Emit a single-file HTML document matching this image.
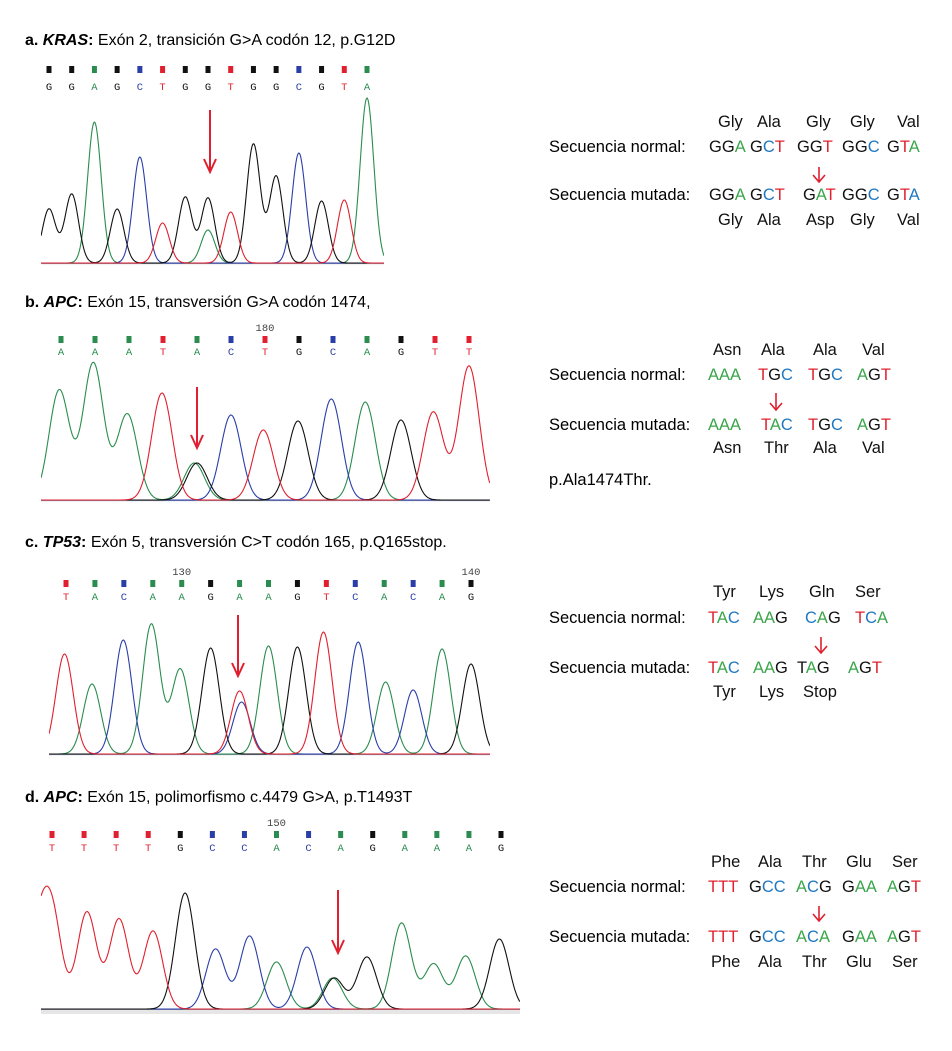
<!DOCTYPE html>
<html><head><meta charset="utf-8"><style>
html,body{margin:0;padding:0;background:#fff}
svg{display:block}
text{font-family:"Liberation Sans",Arial,sans-serif}
.seq{font-size:16.5px}
.mono{font-family:"Liberation Mono","DejaVu Sans Mono",monospace;font-size:10.5px}
</style></head><body>
<svg id="fig" width="952" height="1051" viewBox="0 0 952 1051" xmlns="http://www.w3.org/2000/svg">
<g font-size="16">
<text x="25" y="45"><tspan font-weight="bold">a. <tspan font-style="italic">KRAS</tspan>:</tspan> Exón 2, transición G&gt;A codón 12,  p.G12D</text>
<text x="25" y="307"><tspan font-weight="bold">b. <tspan font-style="italic">APC</tspan>:</tspan> Exón 15, transversión G&gt;A codón 1474,</text>
<text x="25" y="547"><tspan font-weight="bold">c. <tspan font-style="italic">TP53</tspan>:</tspan> Exón 5, transversión C&gt;T codón 165,  p.Q165stop.</text>
<text x="25" y="802"><tspan font-weight="bold">d. <tspan font-style="italic">APC</tspan>:</tspan> Exón 15, polimorfismo  c.4479 G&gt;A, p.T1493T</text>
</g>
<text x="549" y="485" font-size="16.5">p.Ala1474Thr.</text>
<g id="charts"></g>
<g id="seqs"></g>
</svg>
<script>
// ---- Panel a data ----
const callsA = ["G","G","A","G","C","T","G","G","T","G","G","C","G","T","A"];
const peakBaseA = ["G","G","A","G","C","T","G","G","A","T","G","G","C","G","T","A"];
const peakPosA = [0,1,2,3,4,5,6,7,7,8,9,10,11,12,13,14];
const peakHA = [54,69,141,54,106,40,66,65,33,51,119,87,110,62,63,165];
// ---- Panel b data ----
const callsB = ["A","A","A","T","A","C","T","G","C","A","G","T","T"];
const peakBaseB = ["A","A","A","T","G","A","C","T","G","C","A","G","T","T"];
const peakPosB = [-0.05,0.95,1.95,2.97,4.0,3.92,5.0,5.95,6.97,7.95,8.95,10.0,10.95,12.0];
const peakHB = [110,137,86,107,37,37,85,70,79,101,98,80,88,134];
// ---- Panel c data ----
const callsC = ["T","A","C","A","A","G","A","A","G","T","C","A","C","A","G"];
const peakBaseC = ["T","A","C","A","A","G","T","C","A","G","T","C","A","C","A","G"];
const peakPosC = [-0.05,0.9,1.98,2.95,3.95,5.0,6.0,6.07,7.0,8.0,8.9,10.1,11.05,12.0,13.0,14.0];
const peakHC = [100,70,114,130,85,106,63,52,108,107,122,112,72,64,105,90];
// ---- Panel d data ----
const callsD = ["T","T","T","T","G","C","C","A","C","A","G","A","A","A","G"];
const peakBaseD = ["T","T","T","T","T","G","C","C","A","C","A","G","G","A","A","A","G"];
const peakPosD = [-0.45,0,1.09,2.09,3.15,4.15,5.1,6.16,7.0,7.95,8.75,8.8,9.82,10.9,11.9,12.9,13.95];
const peakHD = [70,91,97,90,78,116,60,73,47,62,31,31,52,86,45,53,70];

const panels = [
 {id:"a",calls:callsA,pb:peakBaseA,pp:peakPosA,ph:peakHA,x0:49,x1:367,left:41,right:384,base:263,sq:70,let:90,arrow:[210,110,172],labels:[]},
 {id:"b",calls:callsB,pb:peakBaseB,pp:peakPosB,ph:peakHB,x0:61,x1:469,left:41,right:490,base:500,sq:340,let:355,arrow:[197,387,448],labels:[["180",6]]},
 {id:"c",calls:callsC,pb:peakBaseC,pp:peakPosC,ph:peakHC,x0:66,x1:471,left:49,right:490,base:754,sq:584,let:600,arrow:[238,615,676],labels:[["130",4],["140",14]]},
 {id:"d",calls:callsD,pb:peakBaseD,pp:peakPosD,ph:peakHD,x0:52,x1:501,left:41,right:520,base:1009,sq:835,let:851,arrow:[338,890,953],labels:[["150",7]]}
];
const traceCol={A:"#2a8c4e",C:"#2a3ea8",G:"#111111",T:"#e0202e"};
const NS="http://www.w3.org/2000/svg";
function mk(tag,attrs,parent){const e=document.createElementNS(NS,tag);for(const k in attrs)e.setAttribute(k,attrs[k]);parent.appendChild(e);return e;}
const charts=document.getElementById("charts");
panels.forEach(p=>{
  const n=p.calls.length;
  const step=(p.x1-p.x0)/(n-1);
  const xScale=i=>p.x0+i*step;
  const yScale=h=>p.base-h;
  const g=mk("g",{},charts);
  
  
  const clip=mk("clipPath",{id:"clip"+p.id},g);
  mk("rect",{x:p.left,y:p.base-200,width:p.right-p.left,height:202},clip);
  const bl=mk("line",{x1:p.left,x2:p.right,y1:p.base+0.5,y2:p.base+0.5,stroke:"#8a8fa8","stroke-width":1.2},g);
  
  
  if(p.id==="d"){mk("rect",{x:p.left,y:p.base+1,width:p.right-p.left,height:4,fill:"#e6e6e6"},g);}
  p.calls.forEach((b,i)=>{
    const sq=mk("rect",{x:xScale(i)-2.5,y:p.sq-4,width:5,height:7,fill:traceCol[b]},g);
    
    
    const t=mk("text",{x:xScale(i),y:p.let,"text-anchor":"middle",class:"mono",fill:traceCol[b]},g);
    t.textContent=b;
    
    
  });
  p.labels.forEach(l=>{
    const t=mk("text",{x:xScale(l[1]),y:p.sq-9,"text-anchor":"middle",class:"mono",fill:"#444"},g);
    t.textContent=l[0];
    
    
  });
  const sigma=step*0.3;
  ["A","C","G","T"].forEach(ch=>{
    const idx=p.pb.map((b,k)=>b===ch?k:-1).filter(k=>k>=0);
    if(!idx.length)return;
    let d="";
    for(let x=p.left;x<=p.right;x+=0.7){
      let s=0;
      idx.forEach(k=>{const dx=x-xScale(p.pp[k]);s+=p.ph[k]*Math.exp(-dx*dx/(2*sigma*sigma));});
      d+=(d?"L":"M")+x.toFixed(1)+","+yScale(s).toFixed(1);
    }
    const path=mk("path",{d:d,fill:"none",stroke:traceCol[ch],"stroke-width":1.1,"clip-path":"url(#clip"+p.id+")"},g);
    
    
  });
  const a=p.arrow;
  const ar=mk("path",{d:`M${a[0]},${a[1]}L${a[0]},${a[2]}M${a[0]-6},${a[2]-13}L${a[0]},${a[2]}L${a[0]+6},${a[2]-13}`,stroke:"#e02030","stroke-width":2,fill:"none"},g);
  
  
});

const R="#e0202e",Gn="#3aa64a",B="#1f78c1",K="#111";
const seqBlocks=[
 {y:[127,152,200,225],arrowX:819,arrowY:[167,182],
  aaTop:[["Gly",718],["Ala",757],["Gly",806],["Gly",850],["Val",897]],
  norm:[[[["G",K],["G",K],["A",Gn]],709],[[["G",K],["C",B],["T",R]],750],[[["G",K],["G",K],["T",R]],797],[[["G",K],["G",K],["C",B]],842],[[["G",K],["T",R],["A",Gn]],887]],
  mut:[[[["G",K],["G",K],["A",Gn]],709],[[["G",K],["C",B],["T",R]],750],[[["G",K],["A",Gn],["T",R]],803],[[["G",K],["G",K],["C",B]],842],[[["G",K],["T",R],["A",B]],887]],
  aaBot:[["Gly",718],["Ala",757],["Asp",806],["Gly",850],["Val",897]]},
 {y:[355,380,430,453],arrowX:776,arrowY:[393,410],
  aaTop:[["Asn",713],["Ala",761],["Ala",813],["Val",862]],
  norm:[[[["A",Gn],["A",Gn],["A",Gn]],708],[[["T",R],["G",K],["C",B]],758],[[["T",R],["G",K],["C",B]],808],[[["A",Gn],["G",K],["T",R]],857]],
  mut:[[[["A",Gn],["A",Gn],["A",Gn]],708],[[["T",R],["A",Gn],["C",B]],761],[[["T",R],["G",K],["C",B]],808],[[["A",Gn],["G",K],["T",R]],857]],
  aaBot:[["Asn",713],["Thr",764],["Ala",813],["Val",862]]},
 {y:[597,623,673,697],arrowX:821,arrowY:[637,653],
  aaTop:[["Tyr",713],["Lys",759],["Gln",809],["Ser",855]],
  norm:[[[["T",R],["A",Gn],["C",B]],708],[[["A",Gn],["A",Gn],["G",K]],753],[[["C",B],["A",Gn],["G",K]],805],[[["T",R],["C",B],["A",Gn]],855]],
  mut:[[[["T",R],["A",Gn],["C",B]],708],[[["A",Gn],["A",Gn],["G",K]],753],[[["T",K],["A",Gn],["G",K]],797],[[["A",Gn],["G",K],["T",R]],848]],
  aaBot:[["Tyr",713],["Lys",759],["Stop",803]]},
 {y:[867,892,942,967],arrowX:819,arrowY:[906,921],
  aaTop:[["Phe",711],["Ala",758],["Thr",802],["Glu",846],["Ser",892]],
  norm:[[[["T",R],["T",R],["T",R]],708],[[["G",K],["C",B],["C",B]],749],[[["A",Gn],["C",B],["G",K]],796],[[["G",K],["A",Gn],["A",Gn]],842],[[["A",Gn],["G",K],["T",R]],887]],
  mut:[[[["T",R],["T",R],["T",R]],708],[[["G",K],["C",B],["C",B]],749],[[["A",Gn],["C",B],["A",Gn]],796],[[["G",K],["A",Gn],["A",Gn]],842],[[["A",Gn],["G",K],["T",R]],887]],
  aaBot:[["Phe",711],["Ala",758],["Thr",802],["Glu",846],["Ser",892]]}
];
const seqs=document.getElementById("seqs");
seqBlocks.forEach((s,bi)=>{
  const g=mk("g",{class:"seq"},seqs);
  
  
  const l1=mk("text",{x:549,y:s.y[1],class:"seq"},g);l1.textContent="Secuencia normal:";
  
  
  const l2=mk("text",{x:549,y:s.y[2],class:"seq"},g);l2.textContent="Secuencia mutada:";
  
  
  [[s.aaTop,s.y[0]],[s.aaBot,s.y[3]]].forEach(([arr,y])=>arr.forEach(([t,x])=>{
    const e=mk("text",{x:x,y:y,class:"seq",fill:K},g);e.textContent=t;
    
    
  }));
  [[s.norm,s.y[1]],[s.mut,s.y[2]]].forEach(([arr,y])=>arr.forEach(([parts,x])=>{
    const e=mk("text",{x:x,y:y,class:"seq"},g);
    
    
    parts.forEach(([c,col])=>{const ts=mk("tspan",{fill:col},e);ts.textContent=c;});
  }));
  const ax=s.arrowX,ay=s.arrowY;
  const ar=mk("path",{d:`M${ax},${ay[0]}L${ax},${ay[1]}M${ax-6},${ay[1]-7}L${ax},${ay[1]}L${ax+6},${ay[1]-7}`,stroke:"#e02030","stroke-width":1.6,fill:"none"},g);
  
  
});
</script>
</body></html>
